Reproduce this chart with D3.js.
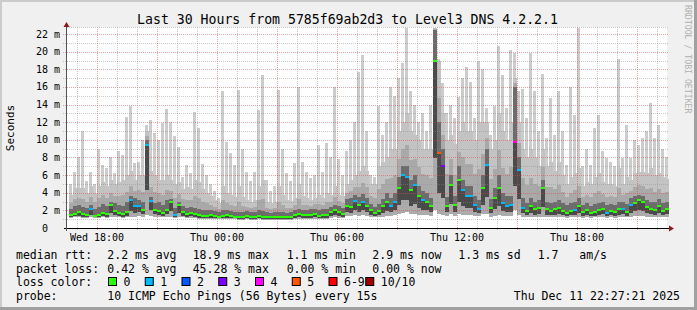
<!DOCTYPE html>
<html><head><meta charset="utf-8">
<script src="https://cdn.jsdelivr.net/npm/d3@7/dist/d3.min.js"></script>
<style>html,body{margin:0;padding:0;background:#f0f0f0}svg{display:block}</style>
</head><body>
<svg id="chart" width="697" height="310"></svg>
<script>
// ---------- data (ms), one column per 12 minutes, 150 columns ----------
const startTime = new Date(2025, 11, 10, 16, 30);   // Wed 16:30
const endTime   = new Date(2025, 11, 11, 22, 30);   // Thu 22:30
const stepMinutes = 12;

const minPing = [
 1.1,1.2,1.2,1.1,1.1,1.2,1.1,1.1,1.2,1.1,1.2,1.3,1.2,1.1,1.2,1.3,1.3,1.4,1.3,1.5,1.4,1.3,1.3,1.2,1.3,
 1.3,1.1,1.3,1.2,1.1,1.1,1.1,1.0,1.0,1.0,1.0,1.0,1.0,1.0,1.0,1.0,1.0,0.9,0.9,1.0,0.9,0.9,1.0,0.9,0.9,
 0.9,0.9,0.9,0.9,0.9,0.9,1.0,1.0,1.0,1.0,1.0,1.0,1.0,1.0,1.0,1.1,1.2,1.1,1.1,1.4,1.4,1.5,1.4,1.5,1.4,
 1.2,1.2,1.2,1.3,1.4,1.4,1.5,1.6,1.7,1.8,1.6,1.6,1.5,1.5,1.5,1.4,2.0,1.6,1.5,1.4,1.6,1.4,1.6,1.5,1.5,
 1.5,1.4,1.4,1.6,1.6,1.3,1.4,1.5,1.4,1.4,1.4,2.0,1.5,1.3,1.2,1.3,1.2,1.2,1.3,1.2,1.2,1.2,1.2,1.2,1.1,
 1.2,1.2,1.3,1.1,1.2,1.1,1.2,1.2,1.2,1.1,1.2,1.1,1.2,1.2,1.2,1.3,1.4,1.4,1.4,1.3,1.3,1.2,1.3,1.2,1.3];

const medianRtt = [
 1.5,1.6,1.8,1.6,1.5,2.1,1.4,1.5,1.7,1.6,2.6,1.9,1.7,1.6,1.8,3.2,2.5,2.5,2.0,9.4,3.1,2.0,1.9,1.7,2.0,
 3.0,1.5,2.6,1.8,1.6,1.7,1.6,1.5,1.4,1.4,1.5,1.4,1.3,1.4,1.5,1.4,1.3,1.3,1.3,1.4,1.3,1.3,1.4,1.3,1.3,
 1.2,1.3,1.2,1.3,1.2,1.3,1.5,1.6,1.5,1.5,1.5,1.6,1.4,1.5,1.5,1.8,2.0,1.8,1.6,2.5,2.4,3.1,2.6,3.0,2.5,
 2.0,1.7,1.9,2.5,3.0,2.5,3.0,4.5,6.0,5.8,4.3,4.9,3.6,3.2,3.0,2.5,18.9,8.5,7.0,2.5,4.9,2.6,5.5,4.3,3.6,
 3.6,2.6,2.1,4.5,7.2,2.3,3.4,4.5,2.8,2.5,2.6,9.8,6.6,2.3,1.9,2.5,2.1,2.3,4.5,2.1,1.9,2.1,2.3,1.9,1.7,
 1.9,2.0,2.5,1.8,2.0,1.7,1.8,2.0,2.2,1.7,1.9,1.8,2.1,2.2,1.8,2.6,2.8,3.2,2.9,2.4,2.2,2.0,2.5,1.9,2.2];

const upperQuartile = [
 2.2,2.5,2.6,2.4,2.3,2.6,2.2,2.4,2.7,2.5,3.0,2.8,2.6,2.5,2.9,3.6,3.4,3.2,2.9,10.0,3.5,2.8,2.9,2.6,3.2,
 3.3,2.3,3.0,2.5,2.3,2.4,2.3,2.2,2.0,2.0,2.0,1.9,1.8,2.0,2.0,1.9,1.8,1.8,1.8,1.9,1.8,1.8,2.0,1.9,1.8,
 1.7,1.8,1.8,1.8,1.7,1.8,2.0,2.2,2.0,2.0,2.1,2.2,2.0,2.1,2.2,2.4,2.6,2.5,2.3,3.3,3.4,3.8,3.5,3.9,3.4,
 2.7,2.4,2.7,3.3,4.0,3.4,4.0,5.8,7.0,7.0,5.5,6.0,4.8,4.2,4.0,3.4,22.5,12.0,9.0,3.5,6.0,3.6,7.0,5.5,4.8,
 4.8,3.6,3.2,6.0,9.0,3.3,4.5,6.0,4.0,3.6,3.6,16.0,8.0,3.4,2.8,3.4,3.0,3.2,5.5,3.0,2.8,3.0,3.2,2.8,2.6,
 2.8,3.0,3.4,2.6,2.8,2.5,2.7,2.8,3.0,2.6,2.7,2.6,3.0,3.0,2.7,3.4,3.6,3.8,3.6,3.2,3.0,2.9,3.3,2.8,3.0];

const ninetiethPct = [
 3.8,4.5,4.5,4.5,4.0,4.8,4.0,4.8,5.2,4.8,5.5,5.0,5.2,5.5,6.0,6.5,5.5,6.0,6.0,11.0,6.5,6.0,5.5,5.5,6.0,
 5.5,5.0,5.2,4.4,4.6,4.4,5.5,5.2,4.4,4.0,3.6,3.2,2.8,4.8,4.0,3.8,3.5,4.8,3.5,3.2,3.0,3.2,4.8,5.4,3.0,
 2.8,3.0,4.8,3.8,3.2,3.1,3.4,5.0,3.6,3.4,3.2,3.4,3.8,3.4,4.0,3.8,4.8,3.8,3.6,5.0,5.5,6.0,6.5,7.0,6.5,
 5.0,5.0,7.0,7.5,8.0,9.0,9.0,11.0,12.0,13.0,11.0,10.5,10.0,9.0,9.0,9.0,22.7,19.0,13.0,10.0,10.5,9.5,11.0,12.0,11.0,
 11.0,10.0,12.0,12.0,12.0,9.0,10.0,13.0,11.0,10.0,12.0,17.0,12.0,9.0,8.0,9.0,8.0,7.0,9.0,7.0,7.5,6.5,7.5,6.0,5.0,
 5.8,6.2,6.8,4.8,5.2,5.0,5.8,6.2,5.2,5.0,5.0,4.8,6.8,5.0,5.8,5.4,6.2,6.4,6.4,6.2,6.8,6.0,6.2,5.8,5.6];

const maxPing = [
 5.0,6.4,8.1,11.0,5.3,6.4,5.0,9.0,7.2,6.8,8.1,6.2,8.7,8.3,12.6,13.8,7.4,7.5,10.0,11.7,12.2,10.8,10.0,11.9,13.5,
 12.0,10.4,9.2,5.8,7.2,6.2,13.2,11.3,7.3,6.0,5.0,4.2,3.4,15.5,9.8,8.5,7.2,15.7,9.0,6.4,5.3,6.4,13.4,17.3,5.5,
 4.2,4.8,15.7,9.0,6.2,5.3,7.4,16.0,7.5,6.4,5.7,6.0,9.4,6.4,9.6,8.0,16.0,7.8,6.0,8.7,10.0,12.0,17.7,19.6,11.0,
 6.0,5.8,13.8,10.5,12.0,16.0,15.0,17.0,18.7,22.7,15.5,14.0,12.0,13.0,11.0,14.0,22.7,19.2,16.5,13.0,14.0,12.5,14.9,17.0,18.3,
 16.6,12.5,19.0,18.0,13.6,10.5,13.8,20.7,17.4,13.6,20.2,19.9,15.5,15.8,12.5,19.8,15.5,11.0,17.5,10.2,14.7,10.6,15.5,11.0,7.2,
 16.0,12.8,22.7,7.0,9.0,7.2,11.3,12.8,8.7,7.9,7.5,7.0,19.2,7.9,11.7,7.9,10.0,9.4,10.2,11.0,14.2,10.2,11.7,9.0,8.0];

// loss colour class per column (index into lossColors)
const lossClass = [
 0,0,0,0,0,1,0,0,0,0,0,0,0,0,0,1,1,1,0,1,1,0,0,0,0,
 0,1,0,0,0,0,0,0,0,0,0,0,0,0,0,0,0,0,0,0,0,0,0,0,0,
 0,0,0,0,0,0,0,0,0,0,0,0,0,0,0,0,0,0,0,0,0,1,0,1,0,
 0,0,0,0,0,1,1,0,1,1,0,1,0,1,0,0,0,5,3,0,0,0,0,1,1,
 1,1,1,0,1,0,0,0,1,1,1,4,1,1,0,0,0,0,0,0,0,0,0,0,0,
 0,1,0,0,0,0,0,0,0,1,0,0,0,1,0,1,0,0,0,0,0,0,0,0,0];

const lossLabels = ["0","1","2","3","4","5","6-9","10/10"];
const lossColors = ["#26ff00","#00b8ff","#0059ff","#7e00ff","#ff00ff","#ff5500","#ff0000","#a10000"];

const yTicks = [0,2,4,6,8,10,12,14,16,18,20,22];
const titleText = "Last 30 Hours from 5785f69ab2d3 to Level3 DNS 4.2.2.1";
const rttLabel = "median rtt:";
const rttFields = ["2.2 ms avg","18.9 ms max","1.1 ms min","2.9 ms now","1.3 ms sd","1.7","am/s"];
const lossLabel = "packet loss:";
const lossFields = ["0.42 % avg","45.28 % max","0.00 % min","0.00 % now"];
const probeLabel = "probe:";
const probeText = "10 ICMP Echo Pings (56 Bytes) every 15s";
const stampText = "Thu Dec 11 22:27:21 2025";

// ---------- drawing ----------
const svg = d3.select("#chart");
const mono = "'DejaVu Sans Mono', 'Liberation Mono', monospace";

// frame
svg.append("rect").attr("width",697).attr("height",310).attr("fill","#f0f0f0");
svg.append("rect").attr("x",0).attr("y",0).attr("width",697).attr("height",2).attr("fill","#cbcbcb");
svg.append("rect").attr("x",0).attr("y",0).attr("width",2).attr("height",310).attr("fill","#cbcbcb");
svg.append("rect").attr("x",694).attr("y",0).attr("width",3).attr("height",310).attr("fill","#a0a0a0");
svg.append("rect").attr("x",0).attr("y",307).attr("width",697).attr("height",3).attr("fill","#a0a0a0");

const x = d3.scaleTime().domain([startTime, endTime]).range([67, 667]);
const y = d3.scaleLinear().domain([0, 22.8]).range([228, 27]);

// canvas
svg.append("rect").attr("x",67).attr("y",27).attr("width",600).attr("height",201).attr("fill","#ffffff");

const times = d3.timeMinute.every(stepMinutes).range(startTime, endTime);

// smoke
const g = svg.append("g").attr("shape-rendering","crispEdges");
times.forEach((t, i) => {
  const x0 = Math.round(x(t));
  const x1 = Math.round(x(d3.timeMinute.offset(t, stepMinutes)));
  const w = x1 - x0;
  const lo = minPing[i], md = medianRtt[i], q3 = upperQuartile[i], p9 = ninetiethPct[i], hi = maxPing[i];
  const band = (a, b, col, xo, ww) => {
    if (b <= a) return;
    g.append("rect").attr("x", x0 + xo).attr("width", ww)
      .attr("y", y(b)).attr("height", y(a) - y(b)).attr("fill", col);
  };
  const split = lo + (md - lo) * 0.35;
  band(p9, hi, "#cccccc", 0, 3);
  band(q3, p9, "#c3c3c3", 0, w);
  band(q3, q3 + (p9 - q3) * 0.4, "#a9a9a9", 0, w);
  band(md, q3, "#6c6c6c", 0, w);
  band(split, md, "#4a4a4a", 0, w);
  band(lo, split, "#ababab", 0, w);
});

// grid (drawn over the data, semi-transparent like rrdtool)
const grid = svg.append("g").attr("shape-rendering","crispEdges").attr("stroke-dasharray","1,1");
const gridMinor = "rgba(140,140,140,0.45)";
const gridMajor = "rgba(230,70,70,0.5)";
d3.timeHour.every(1).range(startTime, endTime).forEach(t => {
  const major = t.getHours() % 3 === 0;
  const xx = Math.round(x(t)) + 0.5;
  grid.append("line").attr("x1",xx).attr("x2",xx).attr("y1",27).attr("y2",231)
    .attr("stroke", major ? gridMajor : gridMinor);
});
d3.range(1, 23).forEach(v => {
  const yy = Math.round(y(v)) + 0.5;
  const major = v % 2 === 0;
  grid.append("line").attr("x1",63).attr("x2",668).attr("y1",yy).attr("y2",yy)
    .attr("stroke", major ? gridMajor : gridMinor);
});
grid.append("line").attr("x1",67).attr("x2",668).attr("y1",27.5).attr("y2",27.5).attr("stroke",gridMinor);

// median dots
const mg = svg.append("g").attr("shape-rendering","crispEdges");
times.forEach((t, i) => {
  const x0 = Math.round(x(t));
  mg.append("rect").attr("x", x0).attr("width", 4)
    .attr("y", Math.round(y(medianRtt[i])) - 1).attr("height", 2)
    .attr("fill", lossColors[lossClass[i]]);
});

// axes
const ax = svg.append("g").attr("shape-rendering","crispEdges");
ax.append("line").attr("x1",64).attr("x2",669).attr("y1",228.5).attr("y2",228.5).attr("stroke","#000");
ax.append("line").attr("x1",66.5).attr("x2",66.5).attr("y1",24).attr("y2",231).attr("stroke","#555");
svg.append("path").attr("d","M669,225.5 L674,228.5 L669,231.5 Z").attr("fill","#8b1a1a");
svg.append("path").attr("d","M63.5,27 L66.5,22 L69.5,27 Z").attr("fill","#8b1a1a");

// y tick labels
const yl = svg.append("g").attr("font-family", mono).attr("font-size","10px").attr("fill","#000");
yTicks.forEach(v => {
  yl.append("text").attr("x",48).attr("y",y(v)+3.5).attr("text-anchor","end").text(String(v));
  if (v > 0) yl.append("text").attr("x",54).attr("y",y(v)+3.5).text("m");
});

// x tick labels
const xl = svg.append("g").attr("font-family", mono).attr("font-size","10px").attr("fill","#000");
const fmt = d3.timeFormat("%a %H:%M");
d3.timeHour.every(6).range(startTime, endTime).forEach(t => {
  xl.append("text").attr("x", x(t)).attr("y",241).attr("text-anchor","middle").text(fmt(t));
});

// title
svg.append("text").attr("x",347.5).attr("y",24).attr("text-anchor","middle")
  .attr("font-family", mono).attr("font-size","13.2px").attr("fill","#000").text(titleText);

// y axis label
svg.append("text").attr("transform","translate(14,128) rotate(-90)").attr("text-anchor","middle")
  .attr("font-family", mono).attr("font-size","11px").attr("fill","#000").text("Seconds");

// watermark
svg.append("text").attr("transform","translate(685,5) rotate(90)")
  .attr("font-family", mono).attr("font-size","8.2px").attr("fill","#b0b0b0").text("RRDTOOL / TOBI OETIKER");

// legend
const lg = svg.append("g").attr("font-family", mono).attr("font-size","11.5px").attr("fill","#000");
const rttX = [107.3,192.7,286.7,372.3,458.3,537.7,579.3];
lg.append("text").attr("x",16).attr("y",259).text(rttLabel);
rttFields.forEach((s,i) => lg.append("text").attr("x",rttX[i]).attr("y",259).text(s));
lg.append("text").attr("x",16).attr("y",272.5).text(lossLabel);
lossFields.forEach((s,i) => lg.append("text").attr("x",rttX[i]).attr("y",272.5).text(s));
lg.append("text").attr("x",16).attr("y",286).text("loss color:");
lossLabels.forEach((s,i) => {
  const bx = 108.5 + i * 36.75;
  svg.append("rect").attr("x",bx).attr("y",277.5).attr("width",8).attr("height",8)
    .attr("fill",lossColors[i]).attr("stroke","#000").attr("stroke-width",1);
  lg.append("text").attr("x",bx + 15).attr("y",286).text(s);
});
lg.append("text").attr("x",16).attr("y",299.5).text(probeLabel);
lg.append("text").attr("x",107.3).attr("y",299.5).text(probeText);
lg.append("text").attr("x",680).attr("y",299.5).attr("text-anchor","end").text(stampText);
</script>
</body></html>
